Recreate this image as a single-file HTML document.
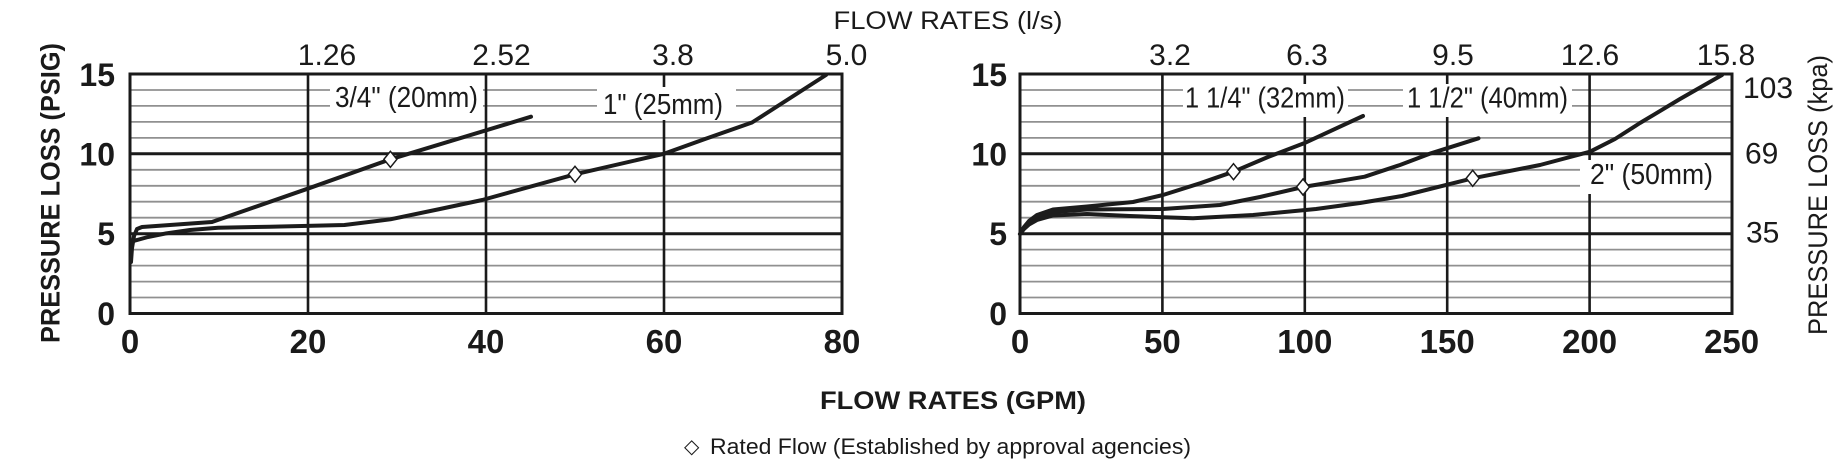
<!DOCTYPE html>
<html>
<head>
<meta charset="utf-8">
<style>
  html, body { margin: 0; padding: 0; background: #ffffff; }
  svg { display: block; }
  text { font-family: "Liberation Sans", Arial, sans-serif; fill: #1a1a1a; }
  .b { font-weight: bold; }
</style>
</head>
<body>
<svg width="1846" height="468" viewBox="0 0 1846 468" xmlns="http://www.w3.org/2000/svg">
  <rect x="0" y="0" width="1846" height="468" fill="#ffffff"/>

  <!-- Top title -->
  <text x="833.5" y="29" font-size="25" textLength="229" lengthAdjust="spacingAndGlyphs">FLOW RATES (l/s)</text>

  <!-- Top l/s labels -->
  <g font-size="30" text-anchor="middle">
    <text x="327" y="65">1.26</text>
    <text x="501.5" y="65">2.52</text>
    <text x="673" y="65">3.8</text>
    <text x="846.5" y="65">5.0</text>
    <text x="1170" y="65">3.2</text>
    <text x="1307" y="65">6.3</text>
    <text x="1453" y="65">9.5</text>
    <text x="1590" y="65">12.6</text>
    <text x="1726" y="65">15.8</text>
  </g>

  <!-- Minor gridlines -->
  <g stroke="#909090" stroke-width="1.8">
    <line x1="131" x2="841" y1="297.5" y2="297.5"/>
    <line x1="131" x2="841" y1="281.6" y2="281.6"/>
    <line x1="131" x2="841" y1="265.6" y2="265.6"/>
    <line x1="131" x2="841" y1="249.6" y2="249.6"/>
    <line x1="131" x2="841" y1="217.7" y2="217.7"/>
    <line x1="131" x2="841" y1="201.7" y2="201.7"/>
    <line x1="131" x2="841" y1="185.8" y2="185.8"/>
    <line x1="131" x2="841" y1="169.8" y2="169.8"/>
    <line x1="131" x2="841" y1="137.9" y2="137.9"/>
    <line x1="131" x2="841" y1="121.9" y2="121.9"/>
    <line x1="131" x2="841" y1="105.9" y2="105.9"/>
    <line x1="131" x2="841" y1="90.0" y2="90.0"/>

    <line x1="1021" x2="1731" y1="297.5" y2="297.5"/>
    <line x1="1021" x2="1731" y1="281.6" y2="281.6"/>
    <line x1="1021" x2="1731" y1="265.6" y2="265.6"/>
    <line x1="1021" x2="1731" y1="249.6" y2="249.6"/>
    <line x1="1021" x2="1731" y1="217.7" y2="217.7"/>
    <line x1="1021" x2="1731" y1="201.7" y2="201.7"/>
    <line x1="1021" x2="1731" y1="185.8" y2="185.8"/>
    <line x1="1021" x2="1731" y1="169.8" y2="169.8"/>
    <line x1="1021" x2="1731" y1="137.9" y2="137.9"/>
    <line x1="1021" x2="1731" y1="121.9" y2="121.9"/>
    <line x1="1021" x2="1731" y1="105.9" y2="105.9"/>
    <line x1="1021" x2="1731" y1="90.0" y2="90.0"/>
  </g>

  <!-- Major gridlines -->
  <g stroke="#1a1a1a" stroke-width="3">
    <line x1="130" x2="842" y1="233.7" y2="233.7"/>
    <line x1="130" x2="842" y1="153.8" y2="153.8"/>
    <line x1="1020" x2="1732" y1="233.7" y2="233.7"/>
    <line x1="1020" x2="1732" y1="153.8" y2="153.8"/>
  </g>
  <g stroke="#1a1a1a" stroke-width="2.6">
    <line x1="308" x2="308" y1="74" y2="313.5"/>
    <line x1="486" x2="486" y1="74" y2="313.5"/>
    <line x1="664" x2="664" y1="74" y2="313.5"/>
    <line x1="1162.4" x2="1162.4" y1="74" y2="313.5"/>
    <line x1="1304.8" x2="1304.8" y1="74" y2="313.5"/>
    <line x1="1447.2" x2="1447.2" y1="74" y2="313.5"/>
    <line x1="1589.6" x2="1589.6" y1="74" y2="313.5"/>
  </g>

  <!-- Label boxes -->
  <g fill="#ffffff">
    <rect x="330" y="84" width="153" height="32"/>
    <rect x="597" y="87" width="139" height="33"/>
    <rect x="1183" y="84" width="165" height="33"/>
    <rect x="1403" y="84" width="169" height="33"/>
    <rect x="1580" y="160" width="152" height="34"/>
  </g>

  <!-- Frames -->
  <g fill="none" stroke="#1a1a1a" stroke-width="3">
    <rect x="130" y="74" width="712" height="239.5"/>
    <rect x="1020" y="74" width="712" height="239.5"/>
  </g>

  <!-- Curve labels -->
  <g font-size="29">
    <text x="335" y="107" textLength="143" lengthAdjust="spacingAndGlyphs">3/4" (20mm)</text>
    <text x="603" y="114" textLength="120" lengthAdjust="spacingAndGlyphs">1" (25mm)</text>
    <text x="1185" y="107.5" textLength="160" lengthAdjust="spacingAndGlyphs">1 1/4" (32mm)</text>
    <text x="1407" y="107.5" textLength="161" lengthAdjust="spacingAndGlyphs">1 1/2" (40mm)</text>
    <text x="1590" y="184" textLength="123" lengthAdjust="spacingAndGlyphs">2" (50mm)</text>
  </g>

  <!-- Curves -->
  <g fill="none" stroke="#1c1c1c" stroke-width="4" stroke-linejoin="round" stroke-linecap="round">
    <polyline points="131,262 132,248 134,236 137,229 142,227 212,222 308.8,188.3 390.4,159.3 531,116.7"/>
    <polyline points="130.9,241.7 148,237 166.5,233.3 190,230 218,227.7 269.8,226.7 344.4,225 390.4,219.3 440,209 482.2,200 575,174.3 664,153.8 705,139 752,122.5 826,75"/>
    <polyline points="1020,234 1024,227 1029,221 1037,215 1053,209.5 1087,206.5 1133,202 1163,195 1200,183.3 1233.5,171.7 1268,157 1304,143.3 1363,116"/>
    <polyline points="1020,234 1024,228 1029,222.5 1037,217.5 1053,212 1087,209.5 1120,209.3 1163,209 1220,205 1260,197 1303,187 1364.7,176.7 1400,165 1431,153.3 1478.5,138.3"/>
    <polyline points="1020,234 1024,229 1029,224.5 1037,220 1053,215.5 1087,214 1130,216 1163,217.3 1193,218.3 1253,215 1316,209 1360,203 1402,196 1472.7,178.3 1540,165 1590,151.7 1615,139 1640,123 1680,99 1722,75"/>
  </g>

  <!-- Rated flow diamonds -->
  <g fill="#ffffff" stroke="#1a1a1a" stroke-width="1.5">
    <polygon points="390.4,151.3 396.9,159.3 390.4,167.3 383.9,159.3"/>
    <polygon points="575,166.3 581.5,174.3 575,182.3 568.5,174.3"/>
    <polygon points="1233.5,163.7 1240,171.7 1233.5,179.7 1227,171.7"/>
    <polygon points="1303,179 1309.5,187 1303,195 1296.5,187"/>
    <polygon points="1472.7,170.3 1479.2,178.3 1472.7,186.3 1466.2,178.3"/>
  </g>

  <!-- Y-axis tick labels (left PSIG) -->
  <g class="b" font-size="32" text-anchor="end">
    <text x="115" y="86">15</text>
    <text x="115" y="165.5">10</text>
    <text x="115" y="245">5</text>
    <text x="115" y="325">0</text>
    <text x="1007" y="86">15</text>
    <text x="1007" y="165.5">10</text>
    <text x="1007" y="245">5</text>
    <text x="1007" y="325">0</text>
  </g>

  <!-- kPa labels -->
  <g font-size="30">
    <text x="1743" y="98">103</text>
    <text x="1745" y="163.5">69</text>
    <text x="1746" y="242.5">35</text>
  </g>

  <!-- X-axis tick labels -->
  <g class="b" font-size="33" text-anchor="middle">
    <text x="130" y="353">0</text>
    <text x="308" y="353">20</text>
    <text x="486" y="353">40</text>
    <text x="664" y="353">60</text>
    <text x="842" y="353">80</text>
    <text x="1020" y="353">0</text>
    <text x="1162.4" y="353">50</text>
    <text x="1304.8" y="353">100</text>
    <text x="1447.2" y="353">150</text>
    <text x="1589.6" y="353">200</text>
    <text x="1731.6" y="353">250</text>
  </g>

  <!-- Axis titles -->
  <text class="b" font-size="27" transform="translate(59.5,193) rotate(-90)" text-anchor="middle" textLength="300" lengthAdjust="spacingAndGlyphs">PRESSURE LOSS (PSIG)</text>
  <text font-size="27" transform="translate(1827,195) rotate(-90)" text-anchor="middle" textLength="280" lengthAdjust="spacingAndGlyphs">PRESSURE LOSS (kpa)</text>

  <text class="b" x="820" y="409" font-size="25" textLength="266" lengthAdjust="spacingAndGlyphs">FLOW RATES (GPM)</text>

  <!-- Legend -->
  <text x="684" y="453" font-size="20" style="font-family: 'DejaVu Sans', sans-serif;">◇</text>
  <text x="710" y="454" font-size="22" textLength="481" lengthAdjust="spacingAndGlyphs">Rated Flow (Established by approval agencies)</text>
</svg>
</body>
</html>
